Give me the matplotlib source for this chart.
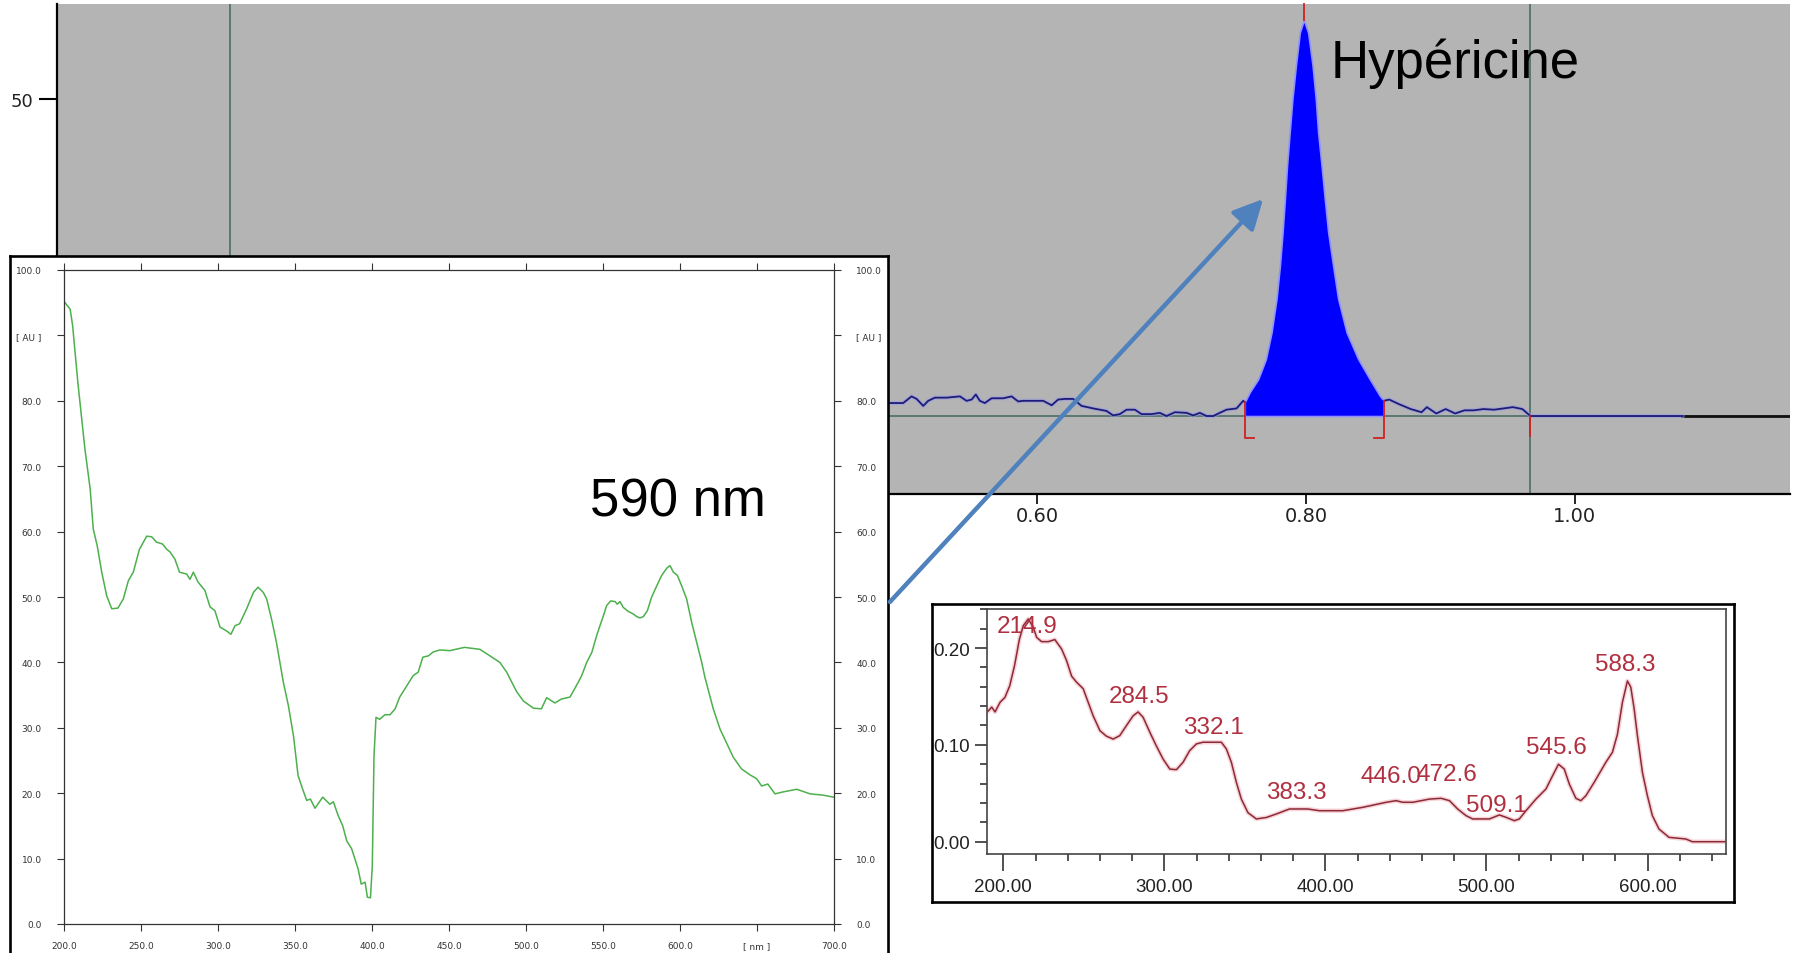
import numpy as np
import matplotlib.pyplot as plt
from matplotlib.patches import FancyArrowPatch
from matplotlib.ticker import MultipleLocator

W, H = 1794, 954

# chromatogram: retention time (min) and signal
chrom_t = [0.485, 0.4907, 0.5006, 0.5068, 0.5106, 0.5155, 0.5192, 0.5242, 0.5329,
           0.5428, 0.5477, 0.5515, 0.5546, 0.5576, 0.5613, 0.5663, 0.5750, 0.5812,
           0.5861, 0.5898, 0.6047, 0.6110, 0.6158, 0.6208, 0.6270, 0.6332, 0.6419,
           0.6518, 0.6567, 0.6617, 0.6667, 0.6729, 0.6778, 0.6853, 0.6914, 0.6964,
           0.7026, 0.7113, 0.7162, 0.7212, 0.7262, 0.7311, 0.7360, 0.7410, 0.7485,
           0.7534, 0.7546, 0.7584, 0.7645, 0.7703, 0.7745, 0.7782, 0.7807, 0.7827,
           0.7844, 0.7860, 0.7880, 0.7900, 0.7926, 0.7955, 0.7985, 0.8017, 0.8050,
           0.8074, 0.8091, 0.8117, 0.8141, 0.8166, 0.8203, 0.8240, 0.8303, 0.8389,
           0.8476, 0.8550, 0.8580, 0.8620, 0.8690, 0.8780, 0.8860, 0.8900, 0.8970,
           0.9040, 0.9110, 0.9180, 0.9250, 0.9320, 0.9400, 0.9470, 0.9540, 0.9610,
           0.9670, 1.0800]
chrom_v = [2.05, 2.05, 2.05, 3.1, 2.7, 1.6, 2.4, 2.9, 2.9,
           3.1, 2.4, 2.6, 3.4, 2.4, 2.05, 2.8, 2.8, 3.1,
           2.3, 2.4, 2.4, 1.7, 2.6, 2.7, 2.7, 1.6, 1.2,
           0.8, 0.1, 0.3, 1.0, 1.0, 0.3, 0.3, 0.5, 0.0,
           0.6, 0.5, 0.1, 0.5, 0.0, 0.0, 0.5, 1.0, 1.2,
           2.4, 2.2, 3.8, 5.8, 9.0, 13.2, 18.5, 23.7, 29.0,
           34.2, 39.5, 44.8, 50.0, 55.3, 60.5, 62.5, 60.5, 55.3,
           50.0, 44.8, 39.5, 34.2, 29.0, 23.7, 18.5, 13.2, 9.0,
           5.8, 3.2, 2.4, 2.6, 1.9, 1.1, 0.6, 1.4, 0.4,
           1.1, 0.4, 0.9, 0.9, 1.1, 1.0, 1.2, 1.4, 1.1,
           0.0, 0.0]
peak_start, peak_apex, peak_end = 0.7546, 0.7985, 0.858
window_end = 0.967
chrom_xticks = [0.6, 0.8, 1.0]

# UV spectrum at the apex (nm, AU)
uv_nm = [200, 204, 205.6, 209, 213.6, 217, 219, 221.6, 224.5, 227.7, 231, 235, 238.5,
         241.8, 245, 249, 253.7, 257, 260, 264, 266.7, 268.8, 272, 275, 279.7, 281.8,
         284, 287, 291.5, 294.8, 298, 301.3, 305.6, 308.4, 311, 314, 318.6, 323, 326,
         329.4, 331.6, 334.8, 338, 342.4, 345.7, 349, 352, 355, 357.6, 360, 363, 368,
         372.7, 374.9, 378, 381, 383.6, 386.8, 391, 393, 395.5, 397, 399, 400.2, 401.3,
         402.6, 405, 408.4, 411.7, 415, 418, 422.5, 426.8, 430, 433, 436.6, 439.8, 444,
         450.6, 460, 470, 476.6, 483, 487.5, 490.7, 494, 498.3, 504.8, 510, 513.4,
         518.8, 523, 528.6, 534, 536.2, 539.4, 542.7, 545.9, 548, 550.2, 552.4, 555,
         557.8, 559.3, 561, 563.2, 566.4, 569.7, 571.9, 574, 576.2, 578.8, 581.6,
         584.9, 588.1, 591.4, 593.5, 595.7, 598.3, 601.1, 604.3, 607.6, 610.8, 614.1,
         616.2, 621.6, 626, 630, 634.6, 640, 645.5, 649.8, 653, 657, 661.7, 667,
         675.8, 684.4, 693, 699.6]
uv_au = [95.2, 94.0, 91.5, 82.8, 72.6, 66.5, 60.4, 57.8, 53.8, 50.2, 48.2, 48.3, 49.7,
         52.5, 53.8, 57.3, 59.3, 59.2, 58.4, 58.1, 57.3, 56.9, 55.8, 53.8, 53.5, 52.7,
         53.8, 52.3, 51.0, 48.5, 47.9, 45.4, 44.8, 44.3, 45.6, 45.9, 48.2, 50.7, 51.5,
         50.7, 49.7, 46.6, 43.0, 37.0, 33.4, 28.8, 22.7, 20.6, 18.9, 19.1, 17.7, 19.4,
         18.3, 18.7, 16.6, 15.0, 12.7, 11.5, 8.4, 6.1, 6.4, 4.1, 4.0, 8.9, 25.7,
         31.6, 31.3, 32.0, 32.0, 32.9, 34.7, 36.4, 38.0, 38.5, 40.8, 41.0, 41.6, 41.9,
         41.8, 42.3, 42.0, 41.0, 40.0, 38.5, 37.0, 35.5, 34.1, 33.0, 32.9, 34.6,
         33.8, 34.4, 34.7, 37.0, 38.0, 40.0, 41.5, 44.1, 45.6, 47.1, 48.7, 49.4,
         49.3, 48.9, 49.3, 48.4, 47.8, 47.4, 47.0, 46.8, 47.0, 47.9, 50.0,
         51.7, 53.3, 54.4, 54.8, 53.8, 53.3, 51.7, 49.7, 46.1, 43.1, 40.0,
         37.7, 32.9, 29.8, 27.8, 25.5, 23.7, 22.8, 22.2, 21.1, 21.4, 19.9, 20.2,
         20.6, 19.9, 19.7, 19.4]

# DAD spectrum (nm, absorbance)
dad_nm = [190.7, 192.8, 194.9, 198, 201, 204, 207, 210, 212.4, 215.5, 218.6, 220.7,
          223.8, 227.9, 232, 236.2, 239.3, 242.4, 245.5, 249.6, 252.7, 255.8, 260, 264,
          268.2, 272.3, 276.5, 280.6, 283.7, 286.8, 291, 295, 299.2, 303.4, 307.5,
          311.6, 315.7, 319.9, 324, 335.4, 338.5, 341.6, 344.7, 347.8, 351.9, 357.1,
          363.3, 369.5, 377.7, 389, 396.3, 410.8, 423.2, 437.7, 443.9, 448, 454.2,
          464.6, 471.8, 477, 482.1, 487.3, 491.4, 501.8, 508, 512.1, 517.3, 520.4,
          524.5, 530.7, 536.9, 541, 544.7, 548.3, 551.4, 555.5, 558.6, 561.7, 566.9,
          574.1, 578.2, 581.3, 584.4, 587.5, 589.6, 591.7, 593.7, 596.8, 599.9, 603,
          607.1, 613.3, 623.7, 627.8, 648]
dad_abs = [0.135, 0.139, 0.134, 0.144, 0.149, 0.161, 0.182, 0.209, 0.223, 0.230, 0.2215,
           0.211, 0.2066, 0.2066, 0.2087, 0.199, 0.187, 0.171, 0.1647, 0.158, 0.144,
           0.130, 0.1147, 0.109, 0.106, 0.1095, 0.120, 0.130, 0.134, 0.1285, 0.113,
           0.099, 0.0854, 0.075, 0.0744, 0.082, 0.094, 0.101, 0.1027, 0.1027, 0.0958,
           0.082, 0.0614, 0.044, 0.030, 0.0235, 0.025, 0.0286, 0.0338, 0.0338, 0.032,
           0.032, 0.0355, 0.0407, 0.0424, 0.0407, 0.0407, 0.044, 0.0448, 0.0424,
           0.0338, 0.0269, 0.0235, 0.0235, 0.0276, 0.0252, 0.0217, 0.0235, 0.032,
           0.044, 0.0544, 0.068, 0.080, 0.075, 0.0596, 0.0448, 0.0424, 0.0475, 0.0614,
           0.082, 0.0924, 0.111, 0.144, 0.166, 0.1595, 0.137, 0.1095, 0.0717, 0.0475,
           0.0269, 0.0131, 0.0045, 0.0028, 0.0, 0.0]
dad_peaks = [214.9, 284.5, 332.1, 383.3, 446.0, 472.6, 509.1, 545.6, 588.3]
# label offsets from the peak, in pixels
dad_label_offsets = [(0, -6), (0, 17), (-3, 15), (-2, 17), (-9, 25), (5, 25),
                     (-5, 11), (-4, 18), (-3, 19)]


def px_rect(x0, y0, x1, y1):
    return [x0 / W, 1 - y1 / H, (x1 - x0) / W, (y1 - y0) / H]


fig = plt.figure(figsize=(W / 100, H / 100), dpi=100)

# ---- chromatogram in the background
ax_c = fig.add_axes(px_rect(57, 5, 1790, 495), zorder=1)
ax_c.set_facecolor('#b4b4b4')
ax_c.set_xlim(-0.1286, 1.16)
ax_c.set_ylim(-12.3, 65)
for s in ['top', 'right']:
    ax_c.spines[s].set_visible(False)
for s in ['left', 'bottom']:
    ax_c.spines[s].set_linewidth(1.6)
ax_c.set_xticks(chrom_xticks)
ax_c.set_xticklabels([f'{v:.2f}' for v in chrom_xticks])
ax_c.set_yticks([50])
ax_c.tick_params(axis='x', direction='out', length=7, width=1.2, pad=2,
                 labelsize=14, labelcolor='#222')
ax_c.tick_params(axis='y', direction='out', length=13, width=1.5, pad=4,
                 labelsize=13, labelcolor='#222')

ct = np.array(chrom_t)
cv = np.array(chrom_v)
ax_c.axhline(0, color='#4d6e68', lw=1.2, zorder=2)
ax_c.plot([1.08, 1.16], [0, 0], color='#111', lw=2, zorder=2)
ax_c.axvline(0.0, color='#4d6e68', lw=1.2, zorder=2)
ax_c.axvline(window_end, color='#4d6e68', lw=1.2, zorder=2)

# trace outside the integrated peak, then the filled peak
outside = (ct <= peak_start) | (ct >= peak_end)
left = ct <= peak_start
right = ct >= peak_end
for part in (left, right):
    ax_c.plot(ct[part], cv[part], color='#9a9ae6', lw=3.0, alpha=0.6, zorder=3)
    ax_c.plot(ct[part], cv[part], color='#1c1c78', lw=1.3, zorder=4)
m = (ct >= peak_start) & (ct <= peak_end)
ax_c.fill_between(ct[m], 0, cv[m], color='#0000ff', ec='#9090ff', lw=1.2, zorder=3)

red = '#d02020'
for t, foot in [(peak_start, 0.007), (peak_end, -0.007)]:
    v = np.interp(t, ct, cv)
    ax_c.plot([t, t, t + foot], [v, -3.4, -3.4], color=red, lw=1.3, zorder=5)
ax_c.plot([window_end, window_end], [0, -3.1], color=red, lw=1.3, zorder=5)
ax_c.plot([peak_apex, peak_apex], [np.interp(peak_apex, ct, cv), 65], color=red,
          lw=1.3, zorder=5, clip_on=False)

ax_c.text(0.8182, 53.5, 'Hypéricine', fontsize=38, family='Liberation Sans',
          ha='left', va='baseline', zorder=6)

# ---- UV spectrum inset (left)
ax_box = fig.add_axes(px_rect(10, 257, 888, 964), zorder=2)
ax_box.set_facecolor('white')
ax_box.set_xticks([])
ax_box.set_yticks([])
for s in ax_box.spines.values():
    s.set_linewidth(1.9)
    s.set_color('black')

ax_s = fig.add_axes(px_rect(64, 271, 834, 925), zorder=3)
ax_s.set_facecolor('none')
ax_s.plot(uv_nm, uv_au, color='#4cb04c', lw=1.1)
ax_s.set_xlim(200, 700)
ax_s.set_ylim(0, 100)
xt = list(range(200, 701, 50))
ax_s.set_xticks(xt)
ax_s.set_xticklabels(['[ nm ]' if v == 650 else f'{v:.1f}' for v in xt])
yt = list(range(0, 101, 10))
ax_s.set_yticks(yt)
ax_s.set_yticklabels(['[ AU ]' if v == 90 else f'{v:.1f}' for v in yt])
ax_s.tick_params(axis='both', direction='out', length=5, width=0.8, color='#333',
                 labelsize=6.5, labelcolor='#333', top=True, right=True,
                 labelright=True)
ax_s.tick_params(axis='y', pad=11)
ax_s.tick_params(axis='x', pad=7)
for s in ax_s.spines.values():
    s.set_linewidth(0.9)
    s.set_color('#333')
ax_s.text(541.6, 62.4, '590 nm', fontsize=38, family='Liberation Sans',
          ha='left', va='baseline')

# ---- DAD spectrum inset (right)
ax_dbox = fig.add_axes(px_rect(932, 605, 1734, 903), zorder=2)
ax_dbox.set_facecolor('white')
ax_dbox.set_xticks([])
ax_dbox.set_yticks([])
for s in ax_dbox.spines.values():
    s.set_linewidth(1.9)
    s.set_color('black')

ax_d = fig.add_axes(px_rect(986.7, 610, 1726, 855), zorder=3)
ax_d.set_facecolor('white')
ax_d.plot(dad_nm, dad_abs, color='#f2b8c0', lw=3.2, alpha=0.6)
ax_d.plot(dad_nm, dad_abs, color='#8c2a35', lw=1.1)
ax_d.set_xlim(189.7, 648.7)
ax_d.set_ylim(-0.0127, 0.2403)
ax_d.set_xticks([200, 300, 400, 500, 600])
ax_d.set_xticklabels(['200.00', '300.00', '400.00', '500.00', '600.00'])
ax_d.set_yticks([0.0, 0.1, 0.2])
ax_d.set_yticklabels(['0.00', '0.10', '0.20'])
ax_d.xaxis.set_minor_locator(MultipleLocator(20))
ax_d.yaxis.set_minor_locator(MultipleLocator(0.02))
ax_d.tick_params(which='major', direction='out', length=9, width=1.2, color='#333',
                 labelsize=13.5, labelcolor='#222', labelfontfamily='Liberation Sans')
ax_d.tick_params(which='minor', direction='out', length=5, width=1.2, color='#333')
ax_d.tick_params(axis='x', which='major', length=12, pad=5)
ax_d.tick_params(axis='y', which='major', pad=3)
for s in ax_d.spines.values():
    s.set_linewidth(1.2)
    s.set_color('#444')

for nm, (dx, dy) in zip(dad_peaks, dad_label_offsets):
    a = np.interp(nm, dad_nm, dad_abs)
    ax_d.annotate(f'{nm:.1f}', (nm, a), xytext=(dx, dy), textcoords='offset pixels',
                  ha='center', va='center', fontsize=17.5, family='Liberation Sans',
                  color='#b03040')

# ---- arrow linking the peak and its spectrum
arrow = FancyArrowPatch((888 / W, 1 - 605 / H), (1265 / W, 1 - 198 / H),
                        transform=fig.transFigure,
                        arrowstyle='-|>,head_length=0.9,head_width=0.45',
                        mutation_scale=20, color='#4f81bd', lw=3.2, zorder=10)
fig.add_artist(arrow)

fig.savefig('out.png', dpi=100)
